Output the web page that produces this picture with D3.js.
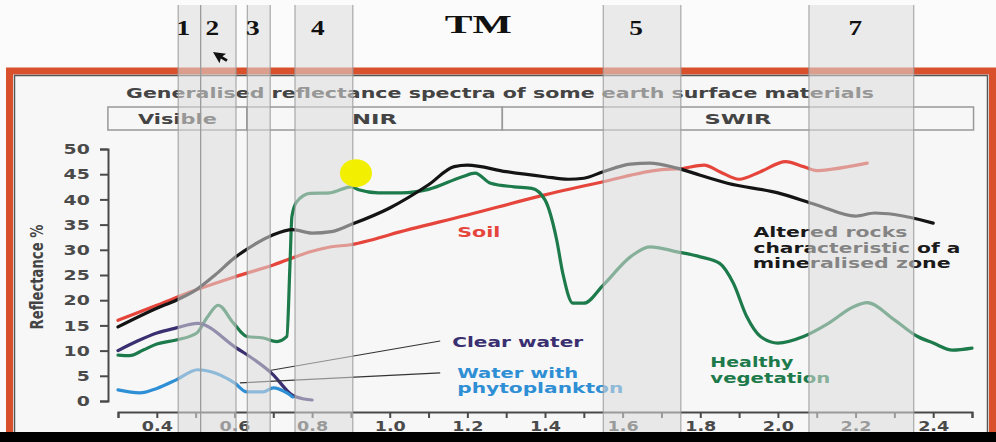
<!DOCTYPE html>
<meta charset="utf-8">
<style>
body { margin: 0; background: #fbfbfb; }
svg { display: block; }
text { font-family: "DejaVu Sans", sans-serif; font-weight: bold; }
.band-num { font-family: "Liberation Serif", serif; fill: #111; }
.axis path, .axis line { stroke: #4a4a4a; stroke-width: 2px; }
.axis text { fill: #4a4a4a; font-family: "DejaVu Sans", sans-serif; font-weight: bold; }
.spec { fill: none; stroke-width: 3.2px; stroke-linejoin: round; stroke-linecap: round; }
.leader { stroke: #333; stroke-width: 1.2px; }
.band { fill: #dcdcdc; opacity: 0.55; }
.band-edge { stroke: #9a9a9a; stroke-width: 1px; }
</style>
<body>
<svg id="chart" width="996" height="442"></svg>
<script src="https://cdn.jsdelivr.net/npm/d3@7"></script>
<script>
// wavelength (micrometres) / reflectance (%)
var soilWl  = [0.3, 0.4, 0.5, 0.6, 0.7, 0.8, 0.85, 0.9, 0.95, 1.0, 1.2, 1.4, 1.55, 1.7, 1.75, 1.81, 1.85, 1.9, 1.955, 2.02, 2.066, 2.1, 2.14, 2.23];
var soilR   = [16, 19, 22, 24.6, 27, 29.7, 30.6, 31, 31.9, 33, 36.9, 40.9, 43.5, 45.9, 46.1, 46.8, 45.5, 44, 45.5, 47.5, 46.5, 45.7, 46, 47.2];

var rockWl  = [0.3, 0.4, 0.45, 0.5, 0.55, 0.6, 0.65, 0.7, 0.75, 0.8, 0.85, 0.9, 1.0, 1.1, 1.166, 1.2, 1.3, 1.4, 1.46, 1.5, 1.55, 1.62, 1.67, 1.74, 1.8, 1.87, 2.0, 2.1, 2.2, 2.25, 2.3, 2.4];
var rockR   = [14.7, 18.4, 20, 22, 25, 28.4, 31, 33, 34, 33.3, 33.6, 35, 38.3, 42.9, 46.5, 46.8, 45.5, 44.5, 44, 44.2, 45.5, 47, 47.2, 46.2, 44.8, 43.2, 41.3, 38.9, 36.7, 37.3, 37, 35.3];

var vegWl   = [0.3, 0.33, 0.365, 0.4, 0.45, 0.503, 0.529, 0.558, 0.597, 0.632, 0.674, 0.709, 0.735, 0.743, 0.748, 0.76, 0.795, 0.846, 0.9, 0.92, 0.97, 1.03, 1.1, 1.187, 1.22, 1.26, 1.32, 1.366, 1.4, 1.43, 1.446, 1.472, 1.5, 1.55, 1.62, 1.67, 1.74, 1.8, 1.85, 1.885, 1.92, 1.955, 2.0, 2.066, 2.13, 2.195, 2.23, 2.3, 2.36, 2.4, 2.45, 2.5];
var vegR    = [9.1, 9.0, 10.1, 11.3, 12.1, 13.5, 16.5, 19, 15.5, 12.8, 12.5, 11.8, 12.8, 27, 36.6, 39.5, 41.2, 41.3, 42.5, 41.9, 41.3, 41.3, 42, 44.5, 45.2, 43.2, 42.5, 42.2, 39.9, 32, 25.3, 19.4, 19.4, 23, 28.6, 30.6, 29.6, 28.6, 27.3, 23.4, 16.7, 12.8, 11.5, 12.8, 15.4, 18.7, 19.5, 16.1, 12.8, 11.5, 10.1, 10.5];

var clearWl = [0.3, 0.35, 0.4, 0.45, 0.505, 0.6, 0.7, 0.748, 0.78, 0.8];
var clearR  = [10, 11.9, 13.5, 14.5, 15.4, 10.8, 5.2, 1.2, 0.4, 0.2];

var phytoWl = [0.3, 0.356, 0.4, 0.45, 0.505, 0.54, 0.6, 0.632, 0.674, 0.7, 0.735, 0.75];
var phytoR  = [2.2, 1.6, 2.5, 4.2, 6.2, 5.8, 3.6, 1.8, 1.8, 2.6, 1.6, 0.8];

// Landsat TM bands
var tmBands = ["1", "2", "3", "4", "5", "7"];
var tmFrom  = [0.455, 0.513, 0.633, 0.756, 1.55, 2.08];
var tmTo    = [0.513, 0.604, 0.692, 0.905, 1.75, 2.35];

// spectral regions
var regions    = ["Visible", "NIR", "SWIR"];
var regionFrom = [0.274, 0.632, 1.29];
var regionTo   = [0.632, 1.29, 2.504];

var yTicks = d3.range(0, 51, 5);
var xTicks = d3.range(3, 26).map(function(d) { return d / 10; });

var svg = d3.select("#chart");
var x = d3.scaleLinear().domain([0.3, 2.5]).range([118, 972]);
var y = d3.scaleLinear().domain([0, 50]).range([401, 149]);
var K = 1.3; // the source picture is stretched sideways

function zip(a, b) { return a.map(function(v, i) { return [v, b[i]]; }); }

function label(px, py, str, size, color, anchor, width) {
  var t = svg.append("text")
    .attr("x", px).attr("y", py)
    .attr("text-anchor", anchor || "start")
    .style("font-size", size + "px")
    .attr("fill", color)
    .text(str);
  if (width) t.attr("textLength", width).attr("lengthAdjust", "spacingAndGlyphs");
  return t;
}

// background + frame
svg.append("rect").attr("width", 996).attr("height", 442).attr("fill", "#fbfbfb");
svg.append("rect").attr("x", 14).attr("y", 75).attr("width", 974).attr("height", 380).attr("fill", "#f7f7f7");
svg.append("rect").attr("x", 9.5).attr("y", 71).attr("width", 983).attr("height", 400)
  .attr("fill", "none").attr("stroke", "#d9502c").attr("stroke-width", 7);
svg.append("rect").attr("x", 14.5).attr("y", 75.5).attr("width", 973).attr("height", 400)
  .attr("fill", "none").attr("stroke", "#555").attr("stroke-width", 1.5);

// title and region boxes
label(500, 98, "Generalised reflectance spectra of some earth surface materials", 14.5, "#444", "middle", 748);

regions.forEach(function(r, i) {
  svg.append("rect")
    .attr("x", x(regionFrom[i])).attr("y", 107)
    .attr("width", x(regionTo[i]) - x(regionFrom[i])).attr("height", 23)
    .attr("fill", "none").attr("stroke", "#999").attr("stroke-width", 1.5);
});
var regionW = [79, 45, 67];
regions.forEach(function(r, i) {
  label((x(regionFrom[i]) + x(regionTo[i])) / 2, 124, r, 14, "#444", "middle", regionW[i]);
});

// axes
var yAxis = svg.append("g").attr("class", "axis").attr("transform", "translate(108,0)")
  .call(d3.axisLeft(y).tickValues(yTicks).tickSize(8).tickPadding(6));
yAxis.selectAll("text").style("font-size", "14.5px").attr("transform", "scale(" + K + ",1)");

var xAxis = svg.append("g").attr("class", "axis").attr("transform", "translate(0,412)")
  .call(d3.axisBottom(x).tickValues(xTicks).tickSize(6).tickPadding(3)
    .tickFormat(function(d) { return Math.round(d * 10) % 2 === 0 ? d.toFixed(1) : ""; }));
xAxis.selectAll("text").style("font-size", "13.5px").attr("transform", "scale(" + K + ",1)");

svg.append("text")
  .attr("transform", "translate(43,277) scale(" + K + ",1) rotate(-90)")
  .attr("text-anchor", "middle")
  .attr("textLength", 105).attr("lengthAdjust", "spacingAndGlyphs")
  .style("font-size", "13px").attr("fill", "#444")
  .text("Reflectance %");

// spectra
var line = d3.line().x(function(d) { return x(d[0]); }).y(function(d) { return y(d[1]); })
  .curve(d3.curveMonotoneX);

var series = [
  { wl: soilWl,  r: soilR,  color: "#e5453b" },
  { wl: vegWl,   r: vegR,   color: "#1d7a4b" },
  { wl: rockWl,  r: rockR,  color: "#141414" },
  { wl: clearWl, r: clearR, color: "#3a2f70" },
  { wl: phytoWl, r: phytoR, color: "#2f8fd5" }
];
svg.selectAll(".spec").data(series).enter().append("path")
  .attr("class", "spec")
  .attr("stroke", function(d) { return d.color; })
  .attr("d", function(d) { return line(zip(d.wl, d.r)); });

// annotations
svg.append("line").attr("class", "leader")
  .attr("x1", x(0.687)).attr("y1", y(6)).attr("x2", x(1.13)).attr("y2", y(11.9));
svg.append("line").attr("class", "leader")
  .attr("x1", x(0.614)).attr("y1", y(3.6)).attr("x2", x(1.13)).attr("y2", y(5.6));

label(x(1.174), y(32.5), "Soil", 14.5, "#e5453b", "start", 43);
label(x(1.161), y(10.7), "Clear water", 14.5, "#3a2f70", "start", 131);
label(x(1.174), y(4.6), "Water with", 13.5, "#2f8fd5", "start", 121);
label(x(1.174), y(1.6), "phytoplankton", 13.5, "#2f8fd5", "start", 166);
label(x(1.937), y(32.5), "Altered rocks", 13.5, "#1a1a1a", "start", 154);
label(x(1.937), y(29.4), "characteristic of a", 13.5, "#1a1a1a", "start", 207);
label(x(1.935), y(26.4), "mineralised zone", 13.5, "#1a1a1a", "start", 198);
label(x(1.826), y(6.7), "Healthy", 13.5, "#1d7a4b", "start", 83);
label(x(1.826), y(3.6), "vegetation", 13.5, "#1d7a4b", "start", 120);

// TM band overlays
tmBands.forEach(function(b, i) {
  svg.append("rect").attr("class", "band")
    .attr("x", x(tmFrom[i])).attr("y", 5)
    .attr("width", x(tmTo[i]) - x(tmFrom[i])).attr("height", 427);
});
var edges = tmFrom.concat(tmTo);
svg.selectAll(".band-edge").data(edges).enter().append("line")
  .attr("class", "band-edge")
  .attr("x1", function(d) { return x(d); }).attr("x2", function(d) { return x(d); })
  .attr("y1", 5).attr("y2", 432);

tmBands.forEach(function(b, i) {
  svg.append("text").attr("class", "band-num")
    .attr("transform", "translate(" + (x((tmFrom[i] + tmTo[i]) / 2) - 6) + ",35) scale(" + K + ",1)")
    .attr("text-anchor", "middle")
    .style("font-size", "21px")
    .text(b);
});
svg.append("text").attr("class", "band-num")
  .attr("x", x(1.228)).attr("y", 33)
  .attr("text-anchor", "middle")
  .attr("textLength", 67).attr("lengthAdjust", "spacingAndGlyphs")
  .style("font-size", "26px")
  .text("TM");

// pointer highlight and mouse cursor from the screenshot
svg.append("ellipse").attr("cx", x(0.913)).attr("cy", y(45.2)).attr("rx", 16).attr("ry", 14)
  .attr("fill", "#f3ef00");
svg.append("path")
  .attr("d", "M0,0 L0,13 L3.5,9.5 L6.5,15 L9,14 L6,8.5 L10.5,8 Z")
  .attr("transform", "translate(213,52) rotate(-30)")
  .attr("fill", "#111");

// black strip at bottom of the capture
svg.append("rect").attr("x", 0).attr("y", 432).attr("width", 996).attr("height", 10).attr("fill", "#000");
</script>
</body>
